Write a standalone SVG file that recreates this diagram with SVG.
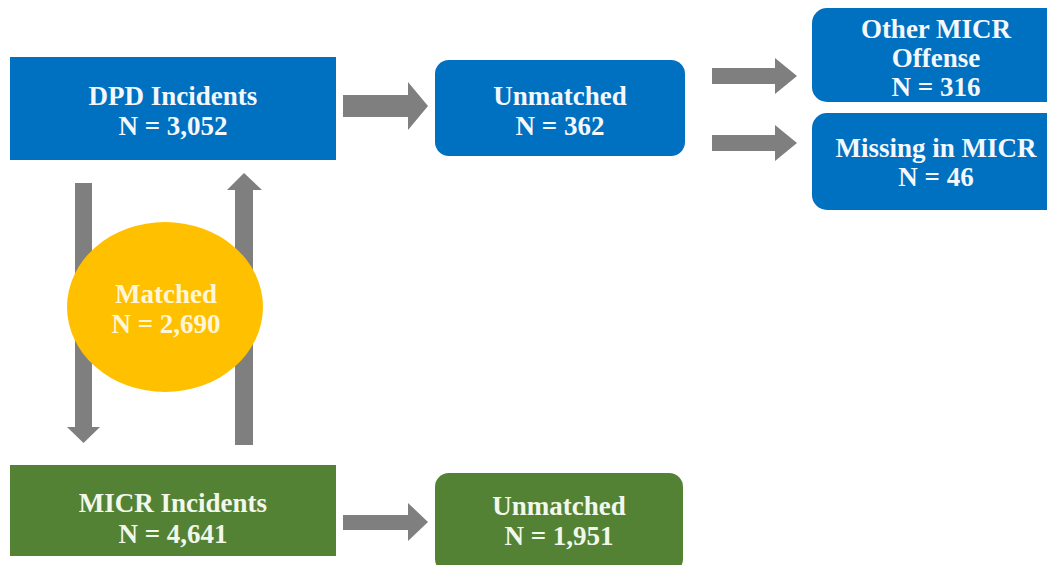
<svg xmlns="http://www.w3.org/2000/svg" width="1047" height="565" viewBox="0 0 1047 565">
  <style>
    .blue { fill: #0070C0; }
    .green { fill: #548235; }
    .gold { fill: #FFC000; }
    .arrow { fill: #7F7F7F; }
    text { font-family: "Liberation Serif", "Times New Roman", serif; font-weight: bold; font-size: 27px; text-anchor: middle; fill: #F4F8FC; }
    .gt { fill: #F2F7EC; }
    .yt { fill: #FFF6DA; }
  </style>
  <rect width="1047" height="565" fill="#FFFFFF"/>

  <g id="connectors">
    <!-- DPD -> Unmatched -->
    <polygon class="arrow" points="343,95 408,95 408,82 428,106 408,130 408,117 343,117"/>
    <!-- Unmatched -> Other MICR Offense -->
    <polygon class="arrow" points="712,68 775,68 775,58 797,76 775,94 775,84 712,84"/>
    <!-- Unmatched -> Missing in MICR -->
    <polygon class="arrow" points="712,135 775,135 775,125 797,143 775,161 775,151 712,151"/>
    <!-- MICR -> Unmatched -->
    <polygon class="arrow" points="343,515 408,515 408,503 428,522 408,541 408,530 343,530"/>
    <!-- DPD -> MICR (down) -->
    <polygon class="arrow" points="75,183 92,183 92,427 100,427 83.5,443 67,427 75,427"/>
    <!-- MICR -> DPD (up) -->
    <polygon class="arrow" points="235,445 253,445 253,190 262,190 244,173 227,190 235,190"/>
  </g>

  <g id="dpd-incidents">
    <rect class="blue" x="10" y="57" width="326" height="103"/>
    <text x="173" y="105">DPD Incidents</text>
    <text x="173" y="135">N = 3,052</text>
  </g>

  <g id="dpd-unmatched">
    <rect class="blue" x="435" y="60" width="250" height="96" rx="14" ry="14"/>
    <text x="560" y="105">Unmatched</text>
    <text x="560" y="135">N = 362</text>
  </g>

  <g id="other-micr-offense">
    <rect class="blue" x="812" y="8" width="250" height="94" rx="15" ry="15"/>
    <text x="936" y="38">Other MICR</text>
    <text x="936" y="67">Offense</text>
    <text x="936" y="96">N = 316</text>
  </g>

  <g id="missing-in-micr">
    <rect class="blue" x="812" y="113" width="250" height="97" rx="15" ry="15"/>
    <text x="936" y="157">Missing in MICR</text>
    <text x="936" y="186">N = 46</text>
  </g>

  <g id="matched">
    <ellipse class="gold" cx="165" cy="307" rx="98" ry="85"/>
    <text class="yt" x="166" y="303">Matched</text>
    <text class="yt" x="166" y="333">N = 2,690</text>
  </g>

  <g id="micr-incidents">
    <rect class="green" x="10" y="465" width="326" height="91"/>
    <text class="gt" x="173" y="512">MICR Incidents</text>
    <text class="gt" x="173" y="543">N = 4,641</text>
  </g>

  <g id="micr-unmatched">
    <rect class="green" x="435" y="473" width="248" height="100" rx="14" ry="14"/>
    <text class="gt" x="559" y="515">Unmatched</text>
    <text class="gt" x="559" y="545">N = 1,951</text>
  </g>
</svg>
